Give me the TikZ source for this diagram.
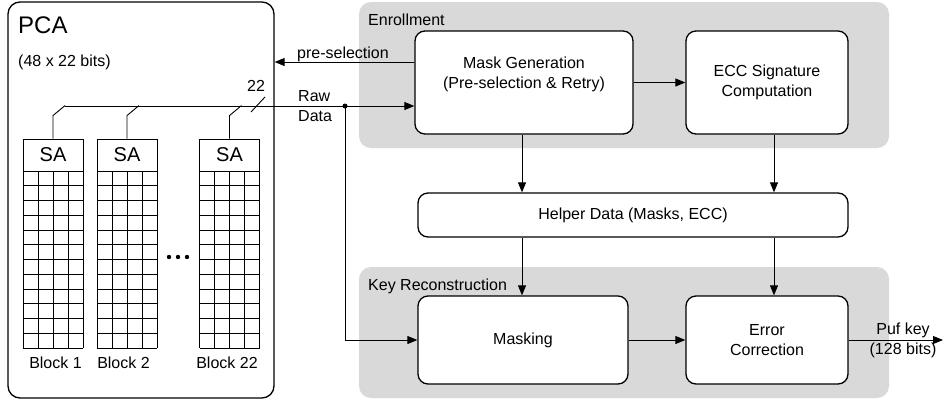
\documentclass[tikz,border=0pt]{standalone}
\usepackage{fontspec}
\setmainfont{Liberation Sans}
\usetikzlibrary{arrows.meta,calc}
\definecolor{regiongray}{HTML}{D9D9D9}
\begin{document}
\begin{tikzpicture}[x=1pt,y=-1pt,
  every node/.style={font=\fontsize{16}{20}\selectfont, inner sep=0pt},
  region/.style={fill=regiongray, rounded corners=12pt, draw=none},
  blockbox/.style={draw, line width=1.3pt, fill=white, rounded corners=10pt, align=center},
  conn/.style={line width=0.9pt, -{Triangle[length=10pt,width=8pt]}},
  wire/.style={line width=0.9pt},
  cell/.style={line width=0.8pt}
]
\useasboundingbox[fill=white] (0,0) rectangle (943,405);

% regions
\node[region, minimum width=530pt, minimum height=146pt] (enroll) at (624,75) {};
\node[region, minimum width=530pt, minimum height=131pt] (keyrec) at (624,332.5) {};
\node[anchor=base west] (enrolltxt) at (368,25) {Enrollment};
\node[anchor=base west] (keyrectxt) at (368,290) {Key Reconstruction};

% PCA
\node[draw, line width=1.3pt, rounded corners=12pt, minimum width=266pt, minimum height=396pt] (pca) at (141,200) {};
\node[anchor=base west, font=\fontsize{24}{28}\selectfont] (pcatitle) at (18,33) {PCA};
\node[anchor=base west] (pcasize) at (18,66) {(48 x 22 bits)};

\foreach \cx/\lx/\lab/\nm in {53/55.5/Block 1/1, 127/123.5/Block 2/2, 229.5/227/Block 22/3}{
  \node[draw, line width=0.9pt, minimum width=60pt, minimum height=32pt, font=\fontsize{20}{24}\selectfont] (sa\nm) at (\cx,155) {SA};
  \foreach \i in {0,...,4} \draw[cell] (\cx-30+15*\i,171) -- (\cx-30+15*\i,348);
  \foreach \j in {0,...,12} \draw[cell] (\cx-30,171+14.75*\j) -- (\cx+30,171+14.75*\j);
  \node[anchor=base] (blk\nm) at (\lx,368) {\lab};
  \draw[wire] (sa\nm.north) -- ++(0,-23) -- ++(12,-10);
}
\fill (169,257) circle (2.2pt);
\fill (178,257) circle (2.2pt);
\fill (187,257) circle (2.2pt);

% bus
\coordinate (b0) at (65,106);
\coordinate (dot) at (345,106);
\draw[wire] (b0) -- (dot);
\fill (dot) circle (2.5pt);
\draw[wire] (251,112) -- (265,97);
\node[anchor=base] (buswidth) at (256,91.5) {22};
\node[anchor=base west] (rawlbl) at (298,101.5) {Raw};
\node[anchor=base west] (datalbl) at (298,121.5) {Data};
\node[anchor=base west] (prelbl) at (297,58) {pre-selection};

% blocks
\node[blockbox, minimum width=218pt, minimum height=103pt] (maskgen) at (524,82.5) {Mask Generation\\(Pre-selection \& Retry)\\\mbox{}};
\node[blockbox, minimum width=162pt, minimum height=103pt] (ecc) at (767,82.5) {ECC Signature\\Computation};
\node[blockbox, minimum width=430pt, minimum height=44pt] (helper) at (633,215) {Helper Data (Masks, ECC)};
\node[blockbox, minimum width=210pt, minimum height=88pt] (masking) at (523,340) {Masking};
\node[blockbox, minimum width=162pt, minimum height=88pt] (errc) at (767,340) {Error\\Correction};

% connectors
\coordinate (prey) at (0,62);
\draw[conn] (maskgen.west |- prey) -- (pca.east |- prey);
\draw[conn] (dot) -- (maskgen.west |- dot);
\draw[conn] (dot) |- (masking.west);
\draw[conn] (maskgen.east) -- (ecc.west);
\coordinate (xa) at (522,0);
\coordinate (xb) at (774,0);
\draw[conn] (maskgen.south -| xa) -- (helper.north -| xa);
\draw[conn] (ecc.south -| xb) -- (helper.north -| xb);
\draw[conn] (helper.south -| xa) -- (masking.north -| xa);
\draw[conn] (helper.south -| xb) -- (errc.north -| xb);
\draw[conn] (masking.east) -- (errc.west);
\coordinate (keyout) at (943,340);
\draw[conn] (errc.east) -- (keyout);
\node[align=center] (puflbl) at (903,340) {Puf key\\(128 bits)};
\end{tikzpicture}
\end{document}
